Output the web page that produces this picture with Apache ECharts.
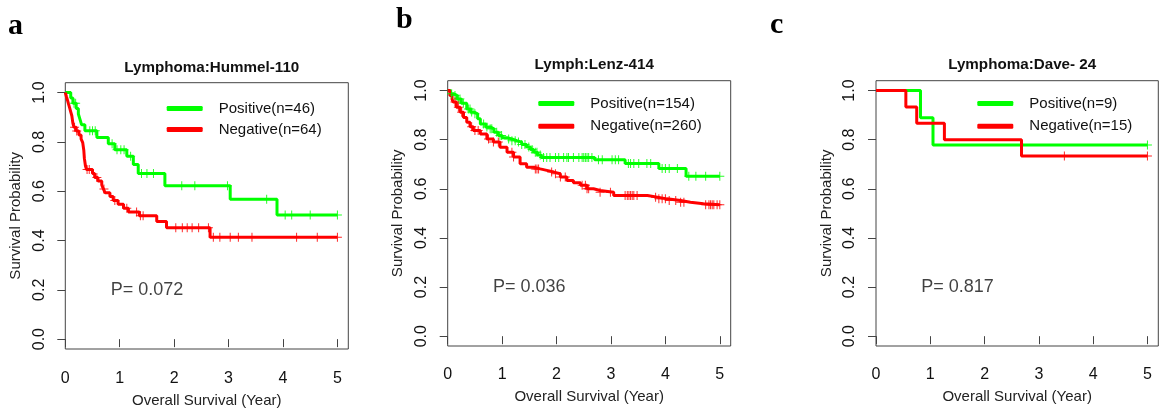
<!DOCTYPE html>
<html>
<head>
<meta charset="utf-8">
<script src="https://cdn.jsdelivr.net/npm/echarts@6/dist/echarts.min.js"></script>
<style>
html,body{margin:0;padding:0;background:#fff;}
#chart{width:1159px;height:415px;}
</style>
</head>
<body>
<div id="chart"></div>
<script>
// ---------- DATA ----------
const panelLetters = ['a', 'b', 'c'];
const panelTitles = ['Lymphoma:Hummel-110', 'Lymph:Lenz-414', 'Lymphoma:Dave- 24'];
const posNames = ['Positive(n=46)', 'Positive(n=154)', 'Positive(n=9)'];
const negNames = ['Negative(n=64)', 'Negative(n=260)', 'Negative(n=15)'];
const pValues = ['P= 0.072', 'P= 0.036', 'P= 0.817'];
const xTicks = [0, 1, 2, 3, 4, 5];
const yTicks = [0, 0.2, 0.4, 0.6, 0.8, 1.0];
const xTitle = 'Overall Survival (Year)';
const yTitle = 'Survival Probability';

// Kaplan-Meier steps [time, survival]
const posStepsA = [[0,1],[0.1,0.978],[0.14,0.957],[0.2,0.935],[0.24,0.913],[0.27,0.891],[0.3,0.869],[0.36,0.845],[0.58,0.818],[0.79,0.792],[0.91,0.768],[1.13,0.742],[1.25,0.708],[1.34,0.672],[1.83,0.622],[3.03,0.567],[3.89,0.503],[5.0,0.503]];
const negStepsA = [[0,1],[0.02,0.984],[0.04,0.969],[0.06,0.953],[0.08,0.938],[0.1,0.922],[0.12,0.906],[0.14,0.875],[0.16,0.859],[0.2,0.844],[0.25,0.828],[0.29,0.812],[0.32,0.797],[0.34,0.766],[0.35,0.734],[0.37,0.703],[0.39,0.688],[0.5,0.672],[0.54,0.656],[0.6,0.641],[0.67,0.625],[0.7,0.609],[0.73,0.594],[0.82,0.578],[0.88,0.562],[0.97,0.547],[1.07,0.531],[1.16,0.516],[1.36,0.5],[1.68,0.477],[1.86,0.452],[2.66,0.413],[5.0,0.413]];
const posStepsB = [[0,1],[0.05,0.987],[0.1,0.98],[0.17,0.966],[0.25,0.948],[0.35,0.925],[0.42,0.913],[0.47,0.905],[0.55,0.885],[0.6,0.864],[0.7,0.852],[0.78,0.844],[0.85,0.83],[0.93,0.817],[1.0,0.808],[1.09,0.803],[1.18,0.796],[1.27,0.79],[1.36,0.78],[1.45,0.77],[1.52,0.76],[1.58,0.749],[1.65,0.738],[1.72,0.727],[2.7,0.718],[3.26,0.703],[3.88,0.683],[4.38,0.651],[5.0,0.651]];
const negStepsB = [[0,1],[0.04,0.98],[0.08,0.965],[0.1,0.953],[0.16,0.932],[0.23,0.912],[0.29,0.89],[0.35,0.871],[0.41,0.853],[0.47,0.837],[0.6,0.823],[0.72,0.803],[0.84,0.79],[0.96,0.769],[1.09,0.749],[1.21,0.729],[1.33,0.702],[1.45,0.688],[1.58,0.681],[1.7,0.675],[1.82,0.668],[1.95,0.661],[2.07,0.648],[2.19,0.634],[2.31,0.625],[2.44,0.614],[2.56,0.6],[2.68,0.593],[2.8,0.586],[3.05,0.573],[3.67,0.566],[3.85,0.559],[4.03,0.552],[4.28,0.545],[4.46,0.539],[4.7,0.535],[5.0,0.535]];
const posStepsC = [[0,1],[0.82,0.889],[1.05,0.778],[5.0,0.778]];
const negStepsC = [[0,1],[0.55,0.933],[0.75,0.867],[1.26,0.8],[2.68,0.733],[5.0,0.733]];

// censoring times (marks sit on the curve)
const posCensorA = [0.16,0.19,0.45,0.5,0.55,0.86,0.95,1.02,1.08,1.2,1.4,1.5,1.62,2.14,2.38,2.98,3.7,4.04,4.16,4.5,5.0];
const negCensorA = [0.17,0.21,0.4,0.44,0.58,0.71,0.91,1.13,1.31,1.38,1.43,2.03,2.15,2.24,2.33,2.45,2.63,2.72,2.84,3.03,3.18,3.43,4.25,4.63,5.0];
const posCensorB = [0.073,0.134,0.196,0.226,0.288,0.38,0.41,0.44,0.5,0.66,0.72,0.78,0.81,0.9,0.96,0.99,1.12,1.18,1.24,1.3,1.36,1.42,1.49,1.55,1.61,1.64,1.7,1.76,1.82,1.88,1.98,2.04,2.13,2.19,2.22,2.31,2.41,2.47,2.5,2.53,2.56,2.59,2.65,2.77,2.84,3.02,3.08,3.14,3.32,3.36,3.42,3.51,3.66,3.73,3.94,4.0,4.07,4.22,4.43,4.56,4.74,5.0];
const negCensorB = [0.134,0.196,0.257,0.44,0.5,0.56,0.75,0.84,0.93,1.18,1.21,1.61,1.64,1.67,1.91,1.98,2.07,2.16,2.47,2.53,2.56,2.59,2.8,2.99,3.26,3.3,3.33,3.36,3.39,3.42,3.48,3.82,3.88,3.94,4.0,4.07,4.19,4.28,4.34,4.74,4.8,4.83,4.86,4.89,4.95,5.0];
const posCensorC = [5.0];
const negCensorC = [3.47, 5.0];
const pValuePos = [1.5, 0.2];

// ---------- BUILD ----------
const posSteps = [posStepsA, posStepsB, posStepsC];
const negSteps = [negStepsA, negStepsB, negStepsC];
const posCensor = [posCensorA, posCensorB, posCensorC];
const negCensor = [negCensorA, negCensorB, negCensorC];

function survAt(steps, t) {
  let v = steps[0][1];
  for (const s of steps) { if (s[0] <= t + 1e-9) v = s[1]; }
  return v;
}

const GREEN = '#00FF00', RED = '#FF0000';
const FONT = "'Liberation Sans', Arial, sans-serif";
const PLUS = 'path://M4.45,0H5.55V4.45H10V5.55H5.55V10H4.45V5.55H0V4.45H4.45Z';

const grids = [
  {left: 65.3, top: 82.7, width: 283, height: 266.3},
  {left: 447.7, top: 80.7, width: 283, height: 265.3},
  {left: 876, top: 80.7, width: 282.3, height: 265.3}
];
const legendPos = [
  {left: 166.7, top: 99.5, gap: 3},
  {left: 538.3, top: 94.5, gap: 4.7},
  {left: 977.3, top: 94.5, gap: 4.7}
];
const titlePos = [{x: 206.8, top: 55.5}, {x: 589.2, top: 52.5}, {x: 1017.2, top: 52.5}];
const letterPos = [{x: 3, top: 6}, {x: 391, top: 0}, {x: 765, top: 5}];
const xLabelMargin = [21.5, 21, 21];
const xNameGap = [44, 43, 43];

const option = {
  animation: false,
  backgroundColor: '#fff',
  textStyle: {fontFamily: FONT},
  title: [],
  grid: [],
  xAxis: [],
  yAxis: [],
  legend: [],
  series: []
};

for (let i = 0; i < 3; i++) {
  option.grid.push(Object.assign({show: true, borderColor: '#444', borderWidth: 1, backgroundColor: 'transparent', containLabel: false}, grids[i]));
  option.title.push({
    text: panelTitles[i], left: titlePos[i].x, top: titlePos[i].top, textAlign: 'center',
    textStyle: {fontFamily: FONT, fontWeight: 'bold', fontSize: 15.2, color: '#111'}
  });
  option.title.push({
    text: panelLetters[i], left: letterPos[i].x, top: letterPos[i].top,
    textStyle: {fontFamily: "'Liberation Serif', 'Times New Roman', serif", fontWeight: 'bold', fontSize: 30, color: '#000'}
  });
  option.xAxis.push({
    type: 'value', gridIndex: i, min: 0, max: 5.2,
    name: xTitle, nameLocation: 'middle', nameGap: xNameGap[i],
    nameTextStyle: {fontFamily: FONT, fontSize: 15, color: '#222'},
    axisLine: {show: false},
    axisTick: {show: true, inside: false, length: 8, customValues: xTicks, lineStyle: {color: '#444', width: 1}},
    axisLabel: {show: true, margin: xLabelMargin[i], customValues: xTicks, fontSize: 16, color: '#111', fontFamily: FONT, formatter: v => String(v)},
    splitLine: {show: false}
  });
  option.yAxis.push({
    type: 'value', gridIndex: i, min: -0.04, max: 1.04,
    name: yTitle, nameLocation: 'middle', nameGap: 42, nameRotate: 90,
    nameTextStyle: {fontFamily: FONT, fontSize: 15, color: '#222'},
    axisLine: {show: false},
    axisTick: {show: true, inside: false, length: 8, customValues: yTicks, lineStyle: {color: '#444', width: 1}},
    axisLabel: {show: true, rotate: 90, margin: 18, customValues: yTicks, fontSize: 16, color: '#111', fontFamily: FONT, formatter: v => v.toFixed(1)},
    splitLine: {show: false}
  });
  option.legend.push({
    show: true, orient: 'vertical', left: legendPos[i].left, top: legendPos[i].top, padding: 0,
    itemGap: legendPos[i].gap, itemWidth: 36, itemHeight: 5, icon: 'roundRect',
    data: [{name: posNames[i], itemStyle: {color: GREEN}}, {name: negNames[i], itemStyle: {color: RED}}],
    textStyle: {fontFamily: FONT, fontSize: 15, color: '#111', lineHeight: 18, padding: [0, 0, 0, 11]},
    selectedMode: false
  });
  // curves
  option.series.push({
    name: posNames[i], type: 'line', step: 'end', xAxisIndex: i, yAxisIndex: i,
    data: posSteps[i], showSymbol: false, symbol: 'none', color: GREEN,
    lineStyle: {color: GREEN, width: 3}, z: 3
  });
  option.series.push({
    name: negNames[i], type: 'line', step: 'end', xAxisIndex: i, yAxisIndex: i,
    data: negSteps[i], showSymbol: false, symbol: 'none', color: RED,
    lineStyle: {color: RED, width: 3}, z: 3
  });
  // censor marks
  option.series.push({
    name: posNames[i] + ' censor', type: 'scatter', xAxisIndex: i, yAxisIndex: i,
    data: posCensor[i].map(t => [t, survAt(posSteps[i], t)]),
    symbol: PLUS, symbolSize: 9, itemStyle: {color: GREEN, opacity: 0.85}, silent: true, z: 4
  });
  option.series.push({
    name: negNames[i] + ' censor', type: 'scatter', xAxisIndex: i, yAxisIndex: i,
    data: negCensor[i].map(t => [t, survAt(negSteps[i], t)]),
    symbol: PLUS, symbolSize: 9, itemStyle: {color: RED, opacity: 0.85}, silent: true, z: 4
  });
  // P value text at data coordinates
  option.series.push({
    name: 'p' + i, type: 'scatter', xAxisIndex: i, yAxisIndex: i,
    data: [pValuePos], symbolSize: 1, itemStyle: {color: 'rgba(0,0,0,0)'}, silent: true,
    label: {show: true, position: 'inside', formatter: pValues[i], fontSize: 18, color: '#111', fontFamily: FONT}
  });
}

const chart = echarts.init(document.getElementById('chart'), null, {renderer: 'canvas'});
chart.setOption(option);
</script>
</body>
</html>
